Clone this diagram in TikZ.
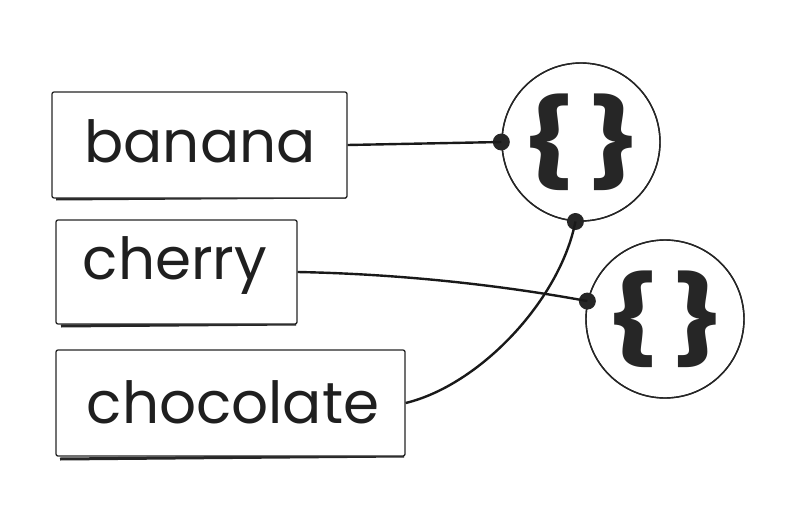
\documentclass[tikz,border=0pt]{standalone}
\usepackage{fontspec}
\setmainfont{Poppins}
\newfontfamily\bracefont{Poppins Bold}
\newcommand{\objbraces}{\raisebox{5pt}{\scalebox{1.3}[1]{\{}\kern10pt\scalebox{1.3}[1]{\}}}}
\begin{document}
\begin{tikzpicture}[x=1pt,y=-1pt,
  box/.style={draw=black!85,line width=1.3pt,rounded corners=2pt,fill=white,inner sep=0pt},
  word/.style={font=\fontsize{58}{58}\selectfont,text=black!88},
  obj/.style={circle,draw=black!85,line width=1.4pt,fill=white,minimum size=158pt,inner sep=0pt,font=\bracefont\fontsize{86}{86}\selectfont,text=black!85},
  link/.style={draw=black!90,line width=2.4pt},
  dot/.style={circle,fill=black!85,inner sep=0pt,minimum size=17pt}]
\useasboundingbox (0,0) rectangle (797,524);
% shadows
\draw[line width=3pt,black!85] (56,199) -- (346,197);
\draw[line width=3pt,black!85] (61,326) -- (296,324);
\draw[line width=3pt,black!85] (60,459) -- (404,456);
% boxes
\node[box,minimum width=295pt,minimum height=106pt] (banana) at (199.5,145) {};
\node[box,minimum width=241pt,minimum height=104pt] (cherry) at (176.5,272) {};
\node[box,minimum width=349pt,minimum height=106pt] (chocolate) at (230.5,403) {};
\node[word] at (200,141) {banana};
\node[word] at (175,266) {cherry};
\node[word] at (233,402) {chocolate};
% objects
\node[obj] (o1) at (581,142) {\objbraces};
\node[obj] (o2) at (665,319) {\objbraces};
% dots
\node[dot] (d1) at (o1.180) {};
\node[dot] (d2) at (o1.266) {};
\node[dot] (d3) at (o2.167) {};
% redraw circle outlines over dots
\draw[black!85,line width=1.4pt] (o1) circle[radius=79pt];
\draw[black!85,line width=1.4pt] (o2) circle[radius=79pt];
% connectors
\draw[link] (banana.east) -- (d1.center);
\draw[link] (cherry.east) .. controls (400,274) and (500,285) .. (d3.center);
\draw[link] (chocolate.east) .. controls (480,385) and (560,300) .. (d2.center);
\end{tikzpicture}
\end{document}
